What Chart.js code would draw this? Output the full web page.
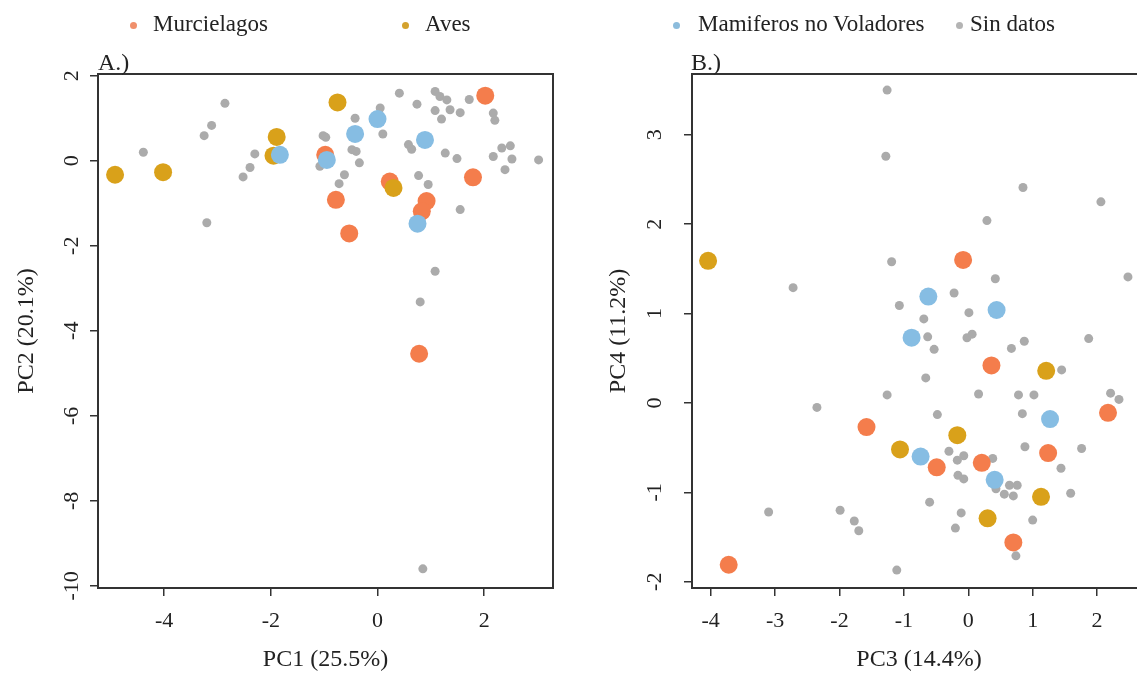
<!DOCTYPE html>
<html>
<head>
<meta charset="utf-8">
<title>PCA - Murcielagos, Aves, Mamiferos</title>
<script src="https://cdn.jsdelivr.net/npm/chart.js@4.4.1/dist/chart.umd.min.js"></script>
<style>
    html, body { margin: 0; padding: 0; width: 1137px; height: 680px; overflow: hidden; background: #fff; }
    body { position: relative; font-family: "Liberation Serif", "Times New Roman", serif; color: #222; }
    canvas { position: absolute; top: 0; }
    #chartA { left: 0; }
    #chartB { left: 570px; }
    .key { position: absolute; top: 12px; font-size: 23px; line-height: 23px; white-space: nowrap; }
    .dot { position: absolute; top: 22px; width: 7px; height: 7px; border-radius: 50%; }
    .panel { position: absolute; top: 50px; font-size: 24px; line-height: 24px; }
</style>
</head>
<body>
<canvas id="chartA" width="570" height="680"></canvas>
<canvas id="chartB" width="600" height="680"></canvas>

<span class="dot" style="left:130px;background:#f0906c"></span><span class="key" style="left:153px">Murcielagos</span>
<span class="dot" style="left:402px;background:#d4a22e"></span><span class="key" style="left:425px">Aves</span>
<span class="dot" style="left:673px;background:#8cbcdc"></span><span class="key" style="left:698px">Mamiferos no Voladores</span>
<span class="dot" style="left:956px;background:#b4b4b4"></span><span class="key" style="left:970px">Sin datos</span>
<span class="panel" style="left:98px">A.)</span>
<span class="panel" style="left:691px">B.)</span>

<script>
// ---------------------------------------------------------------------------
// Data
// ---------------------------------------------------------------------------
const groups = ["Murcielagos", "Aves", "Mamiferos no Voladores", "Sin datos"];
const groupColors = ["#f47d4c", "#d9a11a", "#86bde3", "#ababab"];

// Panel A: PC1 vs PC2
const aMurcX = [2.02, -0.98, 0.23, 1.79, -0.78, -0.53, 0.92, 0.83, 0.78];
const aMurcY = [1.53, 0.14, -0.49, -0.39, -0.92, -1.71, -0.95, -1.19, -4.54];
const aAvesX = [-4.92, -4.02, -1.89, -0.75, 0.30, -1.95];
const aAvesY = [-0.33, -0.27, 0.56, 1.37, -0.64, 0.12];
const aMamX = [-1.83, -0.95, -0.42, 0.00, 0.89, 0.75];
const aMamY = [0.14, 0.02, 0.63, 0.98, 0.49, -1.48];
const aSinX = [-2.86, -3.11, -3.25, -4.39, -2.30, -2.39, -2.52, -3.20, -1.02, -0.97, -1.08, -0.48,
    -0.40, -0.34, -0.62, -0.72, 0.05, 0.10, 0.41, 0.74, 0.58, 0.64, 1.08, 1.17, 1.30, 1.08, 1.20,
    1.36, 1.55, 1.72, 1.27, 1.49, 0.77, 0.95, 1.55, 2.17, 2.20, 2.17, 2.33, 2.49, 2.52, 2.39, 3.02,
    1.08, 0.80, 0.85, -0.42];
const aSinY = [1.35, 0.83, 0.59, 0.20, 0.16, -0.16, -0.38, -1.46, 0.59, 0.55, -0.13, 0.26,
    0.22, -0.05, -0.33, -0.54, 1.24, 0.63, 1.59, 1.33, 0.38, 0.27, 1.63, 1.51, 1.43, 1.18, 0.98,
    1.20, 1.13, 1.44, 0.18, 0.05, -0.35, -0.56, -1.15, 1.12, 0.95, 0.10, 0.30, 0.35, 0.04, -0.21, 0.02,
    -2.60, -3.32, -9.60, 1.00];
const aTicksX = [-4, -2, 0, 2];
const aTicksY = [-10, -8, -6, -4, -2, 0, 2];

// Panel B: PC3 vs PC4
const bMurcX = [-0.08, 0.36, 2.17, -1.58, 1.24, 0.21, -0.49, 0.70, -3.72];
const bMurcY = [1.60, 0.42, -0.11, -0.27, -0.56, -0.67, -0.72, -1.56, -1.81];
const bAvesX = [-4.04, 1.21, -0.17, -1.06, 1.13, 0.30];
const bAvesY = [1.59, 0.36, -0.36, -0.52, -1.05, -1.29];
const bMamX = [-0.62, 0.44, -0.88, 1.27, -0.74, 0.41];
const bMamY = [1.19, 1.04, 0.73, -0.18, -0.60, -0.86];
const bSinX = [-1.26, -1.28, 0.85, 2.06, 0.29, -1.19, 0.42, 2.48, -2.72, -0.22, -1.07, 0.01,
    -0.69, -0.63, -0.02, 0.06, 0.87, 0.67, 1.87, -0.53, -0.66, 1.45, -1.26, -2.35, 0.16, 0.78,
    1.02, 2.21, 2.34, -0.48, 0.84, 0.88, 1.76, -0.30, -0.07, -0.17, 0.38, 1.44, -0.16, -0.07,
    0.43, 0.64, 0.76, 0.56, 0.70, 1.59, -0.60, -1.99, -3.10, -1.77, -1.70, -0.11, -0.20, 1.00,
    0.74, -1.11];
const bSinY = [3.50, 2.76, 2.41, 2.25, 2.04, 1.58, 1.39, 1.41, 1.29, 1.23, 1.09, 1.01,
    0.94, 0.74, 0.73, 0.77, 0.69, 0.61, 0.72, 0.60, 0.28, 0.37, 0.09, -0.05, 0.10, 0.09,
    0.09, 0.11, 0.04, -0.13, -0.12, -0.49, -0.51, -0.54, -0.59, -0.64, -0.62, -0.73, -0.81, -0.85,
    -0.96, -0.92, -0.92, -1.02, -1.04, -1.01, -1.11, -1.20, -1.22, -1.32, -1.43, -1.23, -1.40, -1.31,
    -1.71, -1.87];
const bTicksX = [-4, -3, -2, -1, 0, 1, 2];
const bTicksY = [-2, -1, 0, 1, 2, 3];

// ---------------------------------------------------------------------------
// Helpers
// ---------------------------------------------------------------------------
const FONT = "'Liberation Serif', 'Times New Roman', serif";
const INK = "#222";
const LINE = "#333";

// closed frame round the plot region, like R's box()
const boxPlugin = {
    id: "box",
    afterDraw(chart) {
        const { ctx, chartArea: a } = chart;
        ctx.save();
        ctx.strokeStyle = LINE;
        ctx.lineWidth = 2;
        ctx.strokeRect(a.left, a.top, a.right - a.left, a.bottom - a.top);
        ctx.restore();
    },
};

function series(i, xs, ys, radius) {
    return {
        label: groups[i],
        data: xs.map((x, k) => ({ x, y: ys[k] })),
        backgroundColor: groupColors[i],
        borderWidth: 0,
        pointRadius: radius,
        pointHoverRadius: radius,
    };
}

function axis(o) {
    const vertical = o.position === "left";
    return {
        type: "linear",
        position: o.position,
        min: o.min,
        max: o.max,
        afterBuildTicks: s => { s.ticks = o.ticks.map(v => ({ value: v })); },
        afterFit: s => { if (vertical) s.width = o.size; else s.height = o.size; },
        ticks: {
            autoSkip: false,
            minRotation: vertical ? 90 : 0,
            maxRotation: vertical ? 90 : 0,
            crossAlign: vertical ? "center" : "near",
            padding: o.tickPad,
            color: INK,
            font: { family: FONT, size: 22 },
            callback: v => String(v),
        },
        grid: { drawOnChartArea: false, drawTicks: true, tickLength: 8, color: LINE, lineWidth: 1.5 },
        border: { display: true, color: LINE, width: 2 },
        title: {
            display: true,
            text: o.title,
            color: INK,
            font: { family: FONT, size: 24 },
            padding: vertical ? { top: o.titlePad, bottom: 0 } : { top: 0, bottom: o.titlePad },
        },
    };
}

function scatter(id, sets, x, y, padding) {
    return new Chart(document.getElementById(id), {
        type: "scatter",
        data: { datasets: sets },
        options: {
            responsive: false,
            animation: false,
            layout: { padding },
            plugins: { legend: { display: false }, tooltip: { enabled: false } },
            scales: { x: axis(x), y: axis(y) },
        },
        plugins: [boxPlugin],
    });
}

// ---------------------------------------------------------------------------
// Charts (dataset 0 is drawn on top)
// ---------------------------------------------------------------------------
scatter("chartA", [
    series(2, aMamX, aMamY, 9),
    series(1, aAvesX, aAvesY, 9),
    series(0, aMurcX, aMurcY, 9),
    series(3, aSinX, aSinY, 4.5),
], { position: "bottom", min: -5.24, max: 3.29, ticks: aTicksX, size: 92, tickPad: 12, title: "PC1 (25.5%)", titlePad: 6 },
   { position: "left", min: -10.05, max: 2.04, ticks: aTicksY, size: 98, tickPad: 3, title: "PC2 (20.1%)", titlePad: 12 },
   { top: 74, right: 17, left: 0, bottom: 0 });

scatter("chartB", [
    series(2, bMamX, bMamY, 9),
    series(1, bAvesX, bAvesY, 9),
    series(0, bMurcX, bMurcY, 9),
    series(3, bSinX, bSinY, 4.5),
], { position: "bottom", min: -4.29, max: 2.76, ticks: bTicksX, size: 92, tickPad: 12, title: "PC3 (14.4%)", titlePad: 6 },
   { position: "left", min: -2.07, max: 3.68, ticks: bTicksY, size: 122, tickPad: 20, title: "PC4 (11.2%)", titlePad: 34 },
   { top: 74, right: 24, left: 0, bottom: 0 });
</script>
</body>
</html>
